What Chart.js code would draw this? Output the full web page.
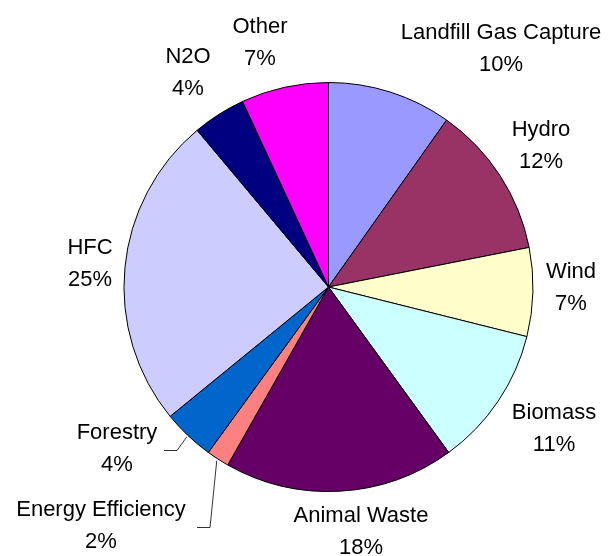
<!DOCTYPE html>
<html>
<head>
<meta charset="utf-8">
<script src="https://cdn.jsdelivr.net/npm/chart.js@4/dist/chart.umd.min.js"></script>
<style>
  html, body { margin: 0; padding: 0; background: #ffffff; }
  #wrap { width: 611px; height: 556px; }
</style>
</head>
<body>
<div id="wrap"><canvas id="c" width="611" height="556"></canvas></div>
<script>
// Project categories and their share of the total (percent)
const categories = [
  'Landfill Gas Capture', 'Hydro', 'Wind', 'Biomass', 'Animal Waste',
  'Energy Efficiency', 'Forestry', 'HFC', 'N2O', 'Other'
];
const shares = [9.8, 12.1, 7.0, 11.1, 18.2, 1.8, 4.1, 24.8, 4.2, 6.9];

const sliceColors = [
  '#9999FF', '#993366', '#FFFFCC', '#CCFFFF', '#660066',
  '#FF8080', '#0066CC', '#CCCCFF', '#000080', '#FF00FF'
];

// Where each two-line label sits (centre of the name line)
const labelAnchors = [
  [501, 33], [541, 130], [571, 272], [554, 413], [361, 516],
  [101, 510], [117, 433], [90, 248], [188, 57], [260, 27]
];
const lineGap = 32;

// Leader lines: elbow point and end point for labels placed away from their slice
const leaders = {
  5: [[210, 527.5], [197, 527.5]],
  6: [[177, 450.5], [164, 450.5]]
};

const pieLabels = {
  id: 'pieLabels',
  afterDatasetsDraw(chart) {
    const ctx = chart.ctx;
    const meta = chart.getDatasetMeta(0);
    const data = chart.data.datasets[0].data;
    const total = data.reduce((a, b) => a + b, 0);
    ctx.save();
    // leader lines
    ctx.strokeStyle = '#000000';
    ctx.lineWidth = 0.8;
    Object.keys(leaders).forEach(k => {
      const i = Number(k);
      const arc = meta.data[i];
      const p = arc.getProps(['x', 'y', 'startAngle', 'endAngle', 'outerRadius'], true);
      const a = (p.startAngle + p.endAngle) / 2;
      const sx = p.x + Math.cos(a) * (p.outerRadius + 2);
      const sy = p.y + Math.sin(a) * (p.outerRadius + 2);
      const [elbow, end] = leaders[k];
      ctx.beginPath();
      ctx.moveTo(sx, sy);
      ctx.lineTo(elbow[0], elbow[1]);
      ctx.lineTo(end[0], end[1]);
      ctx.stroke();
    });
    // text
    ctx.fillStyle = '#000000';
    ctx.font = '22px "Liberation Sans", Arial, sans-serif';
    ctx.textAlign = 'center';
    ctx.textBaseline = 'middle';
    chart.data.labels.forEach((name, i) => {
      const [x, y] = labelAnchors[i];
      const pct = Math.round(data[i] / total * 100) + '%';
      ctx.fillText(name, x, y);
      ctx.fillText(pct, x, y + lineGap);
    });
    ctx.restore();
  }
};

new Chart(document.getElementById('c'), {
  type: 'pie',
  data: {
    labels: categories,
    datasets: [{
      data: shares,
      backgroundColor: sliceColors,
      borderColor: '#000000',
      borderWidth: 1
    }]
  },
  options: {
    responsive: false,
    animation: false,
    layout: { padding: { left: 123.5, right: 77.5, top: 82, bottom: 64 } },
    plugins: {
      legend: { display: false },
      tooltip: { enabled: false }
    }
  },
  plugins: [pieLabels]
});
</script>
</body>
</html>
